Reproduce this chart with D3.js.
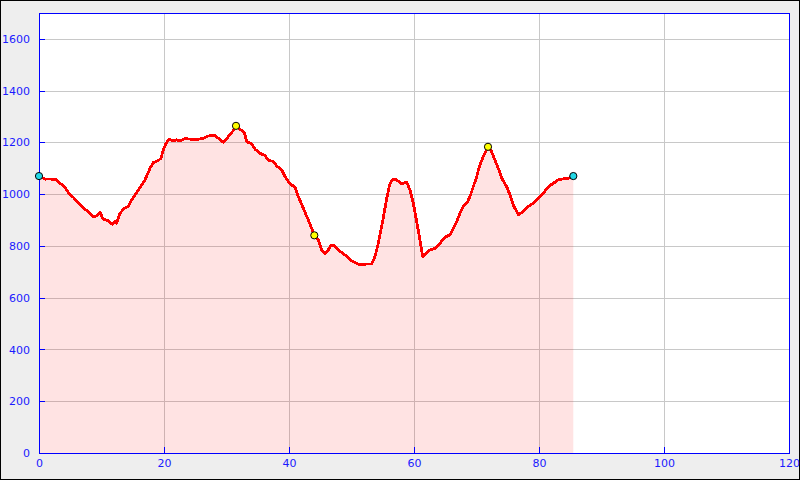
<!DOCTYPE html>
<html><head><meta charset="utf-8">
<script src="https://cdn.jsdelivr.net/npm/d3@7"></script>
<style>html,body{margin:0;padding:0;background:#eeeeee;}svg{display:block;}</style>
</head><body>
<svg id="c" width="800" height="480"></svg>
<script>
const distances = [0,0.96,1.76,2.83,3.36,4.16,4.69,5.49,6.29,7.09,7.89,8.69,9.23,9.76,10.29,11.09,11.73,12.16,12.43,12.96,13.65,14.29,14.83,15.89,16.96,17.76,18.29,19.09,19.52,19.89,20.32,20.85,21.49,22.03,22.56,23.36,24.43,25.49,26.29,27.09,28.16,28.69,29.49,30.29,31.09,31.52,32.16,32.85,33.23,34.03,34.56,35.36,36.16,36.69,37.49,38.03,38.83,39.36,40.16,40.96,41.49,42.29,43.09,43.63,44.05,44.69,45.23,45.76,46.29,46.72,47.36,47.89,48.96,50.03,51.09,51.63,52.43,53.23,53.76,54.29,54.83,55.36,55.63,56.16,56.69,57.23,58.03,58.83,59.36,59.89,60.43,60.96,61.39,62.03,62.56,63.36,64.16,64.96,65.76,66.29,66.83,67.36,67.89,68.53,68.96,69.49,70.03,70.45,71.09,71.84,72.43,72.96,73.49,74.03,74.83,75.36,75.89,76.69,77.49,78.29,79.09,79.89,80.69,81.49,82.29,83.09,83.89,84.69,85.49];
const elevations = [1070,1058,1059,1055,1042,1027,1006,988,967,946,933,913,916,929,903,897,884,894,888,926,946,952,978,1016,1055,1100,1122,1130,1139,1171,1197,1212,1206,1210,1206,1215,1212,1212,1216,1225,1226,1216,1201,1222,1246,1264,1251,1239,1203,1194,1174,1158,1149,1132,1126,1109,1094,1068,1040,1027,991,946,900,868,841,823,785,769,785,804,800,785,765,743,730,727,730,730,759,810,875,946,984,1042,1059,1055,1040,1046,1016,965,894,823,759,772,785,791,810,834,843,868,894,926,952,969,991,1029,1068,1106,1145,1183,1164,1132,1100,1062,1029,997,958,920,933,952,965,984,1004,1029,1042,1055,1059,1062,1070];
const markerX = [0,31.52,44.05,71.84,85.49];
const markerY = [1070,1264,841,1183,1070];
const markerKind = ["end","peak","peak","peak","end"];
const xTicks = [0,20,40,60,80,100,120];
const yTicks = [0,200,400,600,800,1000,1200,1400,1600];

const svg = d3.select("#c");
const L=39,R=789,T=13,B=453;
const x = d3.scaleLinear().domain([0,120]).range([L,R]);
const y = d3.scaleLinear().domain([0,1700]).range([B,T]);

svg.append("rect").attr("x",0.5).attr("y",0.5).attr("width",799).attr("height",479)
  .attr("fill","#eeeeee").attr("stroke","#000").attr("stroke-width",1);
svg.append("rect").attr("x",L).attr("y",T).attr("width",R-L).attr("height",B-T).attr("fill","#fff");

const grid = svg.append("g").attr("shape-rendering","crispEdges");
grid.selectAll("line.gx").data(xTicks.filter(d=>d>0&&d<120)).join("line")
  .attr("x1",d=>x(d)+0.5).attr("x2",d=>x(d)+0.5).attr("y1",T).attr("y2",B)
  .attr("stroke","#c8c8c8").attr("stroke-width",1);
grid.selectAll("line.gy").data(yTicks.filter(d=>d>0)).join("line")
  .attr("x1",L).attr("x2",R).attr("y1",d=>Math.round(y(d))+0.5).attr("y2",d=>Math.round(y(d))+0.5)
  .attr("stroke","#c8c8c8").attr("stroke-width",1);

const pts = distances.map((d,i)=>[d,elevations[i]]);
svg.append("path").datum(pts)
  .attr("d", d3.area().x(d=>x(d[0])).y0(y(0)).y1(d=>y(d[1])))
  .attr("fill","rgb(255,0,0)").attr("fill-opacity",0.11);
svg.append("path").datum(pts)
  .attr("d", d3.line().x(d=>x(d[0])).y(d=>y(d[1])))
  .attr("fill","none").attr("stroke","#ff0000").attr("stroke-width",2.8)
  .attr("stroke-linejoin","round").attr("shape-rendering","crispEdges");

// axes frame
svg.append("rect").attr("x",L+0.5).attr("y",T+0.5).attr("width",R-L).attr("height",B-T)
  .attr("fill","none").attr("stroke","#0000ff").attr("stroke-width",1).attr("shape-rendering","crispEdges");

const yAxis = d3.axisLeft(y).tickValues(yTicks).tickSize(-6).tickPadding(10).tickFormat(d3.format("d"));
const ya = svg.append("g").attr("transform",`translate(${L},0)`).call(yAxis);
const xAxis = d3.axisBottom(x).tickValues(xTicks).tickSize(-6).tickPadding(10).tickFormat(d3.format("d"));
const xa = svg.append("g").attr("transform",`translate(0,${B})`).call(xAxis);
[ya,xa].forEach(a=>{
  a.select(".domain").remove();
  a.selectAll(".tick line").attr("stroke","#0000ff").attr("stroke-width",1).attr("shape-rendering","crispEdges");
  a.selectAll("text").attr("fill","#1a1aff").attr("font-family","DejaVu Sans, sans-serif").attr("font-size",11);
});
ya.selectAll("text").attr("x",-9);
xa.selectAll("text").attr("dy","0.71em").attr("y",6);

svg.selectAll("circle.m").data(markerX.map((d,i)=>({x:d,y:markerY[i],k:markerKind[i]}))).join("circle")
  .attr("cx",d=>x(d.x)).attr("cy",d=>y(d.y)).attr("r",3.6)
  .attr("fill",d=>d.k==="end"?"#22d8e6":"#ffff00").attr("stroke","#000").attr("stroke-width",1);
</script>
</body></html>
